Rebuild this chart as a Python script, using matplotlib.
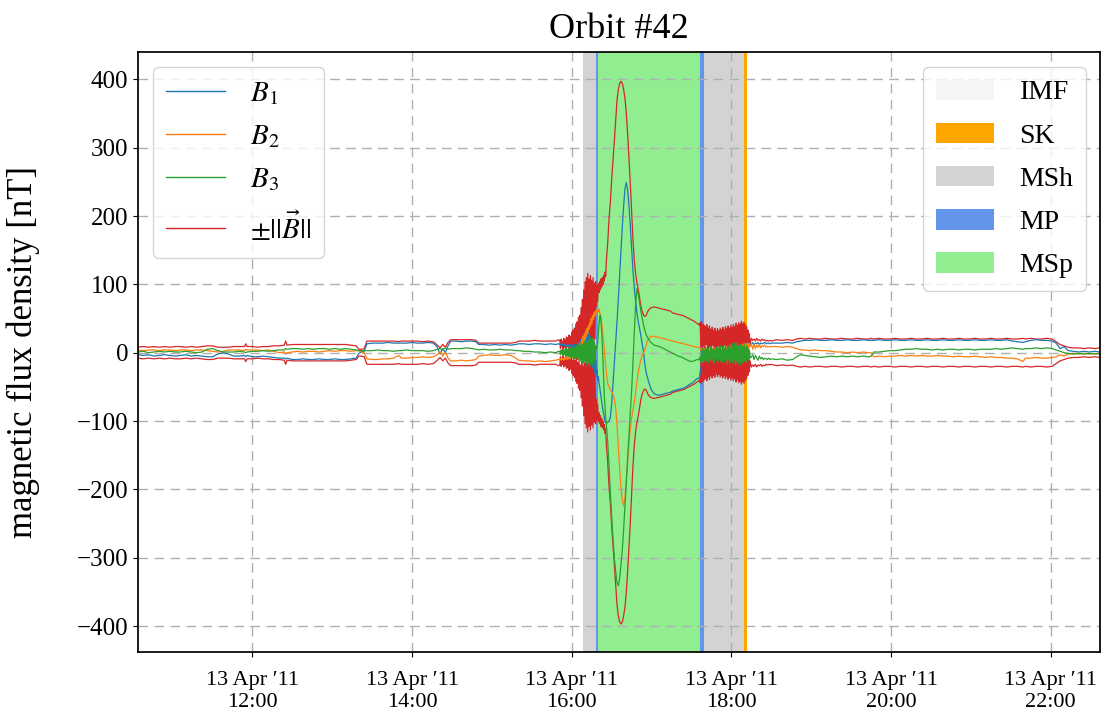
import numpy as np
import matplotlib
matplotlib.use("Agg")
import matplotlib.pyplot as plt
import matplotlib.dates as mdates
from matplotlib.patches import Patch
from matplotlib.lines import Line2D

plt.rcParams['font.family'] = ['Liberation Serif', 'DejaVu Serif']
plt.rcParams['mathtext.fontset'] = 'stix'
plt.rcParams['axes.unicode_minus'] = True

# ---------------- data (minutes after 00:00 on 13 Apr 2011, nT) ----------------
# quiet IMF part before the crossing
t_a = [634, 638, 642, 646, 650, 654, 658, 662, 666, 670, 674, 678, 682,
       686, 690, 694, 698, 702, 706, 710, 714, 715, 716,
       720, 724, 728, 732, 736, 740, 744, 745, 746,
       750, 754, 758, 762, 766, 770, 774, 778, 782, 786, 790, 794, 798,
       800, 802, 804, 806,
       810, 814, 818, 822, 826, 830,
       832, 836, 840, 844, 848, 852, 856,
       859, 861, 863, 865, 867,
       869, 873, 877, 881, 885, 888,
       890, 894, 898, 902, 906, 910, 914, 918,
       920, 924, 928, 932, 936, 940, 944, 948, 950]
b1_a = [-3, -4, -3, -5, -4, -3, -4, -5, -4, -3, -5, -4, -5,
        -6, -6, -2, 0, -2, -5, -5, -4, -6, -4,
        -6, -6, -5, -6, -7, -8, -8, -9, -8,
        -10, -10, -9, -10, -10, -9, -10, -10, -9, -10, -10, -9, -8,
        -1, 1, 2, 13,
        14, 14, 14, 15, 14, 14,
        14, 14, 15, 14, 14, 15, 14,
        8, -2, 6, 0, 10,
        17, 17, 16, 17, 17, 16,
        12, 12, 11, 12, 11, 12, 11, 12,
        13, 13, 12, 13, 13, 12, 13, 12, 13]
b2_a = [4, 3, 4, 4, 3, 4, 4, 3, 4, 4, 3, 4, 4,
        3, 2, 1, 2, 4, 4, 4, 3, 5, 4,
        4, 4, 3, 4, 2, 0, 1, -2, 0,
        1, 2, 1, 2, 2, 1, 2, 3, 2, 3, 3, 2, 3,
        3, 1, 0, -9,
        -10, -10, -9, -9, -8, -4,
        -8, -8, -7, -7, -6, -7, -6,
        -3, 2, -5, 1, -8,
        -12, -12, -11, -12, -11, -10,
        -5, -4, -3, -4, -4, -3, -4, -8,
        -11, -12, -12, -13, -12, -13, -12, -11, -10]
b3_a = [1, 2, 0, 1, 2, 1, 2, 1, 1, 2, 1, 0, 1,
        5, 6, 3, 1, 1, 1, 2, 1, 0, 1,
        2, 2, 3, 2, 3, 4, 4, 6, 5,
        6, 6, 5, 6, 5, 6, 6, 5, 6, 5, 6, 5, 4,
        3, 3, 3, 3,
        3, 4, 3, 3, 2, 3,
        3, 4, 3, 3, 3, 2, 3,
        5, 6, 4, 7, 5,
        6, 6, 6, 7, 6, 5,
        4, 5, 4, 4, 5, 4, 4, 3,
        3, 2, 2, 1, 1, 0, 1, 0, 2]
bmag_a = [8, 9, 8, 9, 8, 9, 8, 9, 9, 8, 9, 8, 9,
          10, 10, 8, 8, 8, 9, 9, 9, 13, 9,
          9, 8, 9, 9, 10, 10, 11, 17, 11,
          12, 12, 12, 12, 12, 12, 12, 12, 12, 12, 12, 11, 10,
          5, 5, 6, 17,
          17, 17, 17, 17, 17, 16,
          17, 17, 17, 17, 16, 17, 16,
          11, 7, 12, 8, 15,
          19, 19, 19, 19, 19, 18,
          14, 14, 14, 14, 14, 14, 14, 15,
          17, 17, 17, 18, 17, 17, 17, 17, 19]

# turbulent inbound part, 15:51 - 16:26, every 0.5 min
t_n1 = np.arange(951, 986.01, 0.5)
bmag_n1 = [18, 6, 20, 9, 17, 4, 21, 8, 19, 5,
           23, 10, 22, 6, 26, 9, 24, 5, 30, 12,
           33, 7, 36, 11, 42, 8, 45, 14, 52, 10,
           55, 18, 66, 12, 78, 20, 92, 15, 104, 9,
           110, 6, 116, 8, 108, 5, 113, 12, 106, 6,
           110, 15, 102, 20, 104, 68, 98, 75, 101, 88,
           104, 92, 108, 96, 110, 100, 113, 105, 118, 112,
           135]
b1_n1 = [12, 13, 11, 12, 10, 13, 11, 12, 10, 12,
         11, 9, 12, 10, 8, 11, 9, 12, 10, 7,
         11, 8, 12, 6, 10, 5, 12, 3, 14, 2,
         16, 0, 20, -5, 24, -8, 28, -12, 30, -15,
         25, -18, 32, -10, 28, -20, 24, -15, 20, -22,
         15, -25, 5, -30, -10, -35, -25, -40, -35, -45,
         -50, -58, -65, -72, -78, -85, -90, -96, -100, -102,
         -103]
b2_n1 = [-10, -9, -11, -8, -10, -9, -11, -8, -10, -7,
         -9, -6, -10, -5, -8, -4, -9, -3, -7, -2,
         -8, 0, -5, 2, -4, 5, -2, 8, 0, 12,
         4, 15, 6, 20, 10, 24, 14, 28, 18, 32,
         24, 36, 28, 40, 34, 44, 38, 50, 42, 54,
         48, 58, 52, 60, 55, 63, 58, 62, 60, 64,
         58, 55, 50, 44, 35, 25, 14, 5, -8, -20,
         -30]
b3_n1 = [2, -3, 4, -2, 3, -4, 5, -3, 4, -5,
         6, -4, 5, -6, 7, -5, 6, -7, 8, -6,
         9, -8, 7, -9, 10, -7, 9, -10, 12, -9,
         11, -12, 14, -10, 12, -15, 16, -12, 18, -14,
         15, -18, 20, -15, 17, -20, 22, -16, 18, -19,
         21, -14, 16, -12, 10, 5, 8, 15, 30, 42,
         52, 55, 45, 30, 10, -15, -40, -64, -80, -95,
         -105]

# magnetosphere pass 16:27 - 17:34
t_msp = np.concatenate([np.arange(987, 1021), np.arange(1022, 1055, 2)])
bmag_msp = [160, 196, 220, 254, 281, 310, 340, 369, 385, 394,
            397, 394, 385, 372, 350, 320, 285, 248, 205, 165,
            135, 115, 102, 92, 80, 68, 60, 55, 53, 55,
            60, 63, 65, 66,
            67, 66, 65, 64, 63, 62, 61, 58, 57, 56,
            55, 54, 52, 50, 48, 46, 43]
b1_msp = [-102, -100, -95, -75, -45, -15, 15, 45, 78, 115,
          150, 185, 215, 240, 249, 238, 215, 185, 152, 120,
          95, 75, 58, 45, 35, 24, 12, 0, -18, -30,
          -37, -44, -50, -55,
          -60, -62, -62, -61, -60, -59, -58, -56, -55, -54,
          -53, -52, -50, -47, -45, -42, -38]
b2_msp = [-45, -50, -54, -57, -61, -68, -80, -105, -138, -170,
          -198, -216, -224, -212, -185, -158, -132, -112, -96, -84,
          -72, -58, -42, -28, -18, -10, -4, 0, 5, 12,
          18, 21, 23, 24,
          24, 23, 22, 21, 20, 19, 18, 17, 16, 15,
          14, 13, 12, 11, 10, 9, 8]
b3_msp = [-130, -165, -205, -240, -272, -300, -320, -336, -341, -330,
          -310, -288, -258, -225, -190, -155, -120, -88, -55, -15,
          30, 70, 94, 85, 72, 60, 50, 40, 32, 26,
          22, 19, 16, 14,
          11, 10, 9, 7, 5, 3, 1, -1, -3, -5,
          -6, -8, -10, -12, -13, -12, -10]

# turbulent outbound part, 17:35 - 18:14, every 0.5 min
t_n2 = np.arange(1055, 1094.01, 0.5)
bmag_n2 = [42, 41, 40, 44, 8, 46, 5, 42, 10, 40,
           4, 38, 12, 41, 6, 36, 3, 39, 9, 34,
           5, 37, 11, 33, 4, 36, 8, 31, 3, 35,
           10, 32, 6, 36, 2, 34, 9, 37, 5, 33,
           12, 38, 4, 35, 8, 39, 3, 36, 10, 40,
           6, 37, 2, 41, 9, 38, 5, 43, 11, 40,
           4, 44, 8, 42, 3, 46, 10, 43, 6, 45,
           2, 41, 9, 38, 5, 33, 10, 28, 12]
b1_n2 = [-38, -37, -36, -30, -22, -16, -10, -6, -8, -3,
         -5, -1, -4, 0, -3, 1, -2, 2, -1, 3,
         -2, 2, 0, 3, -1, 4, 1, 3, 0, 4,
         1, 5, 2, 4, 1, 5, 2, 6, 3, 5,
         2, 6, 4, 7, 3, 6, 4, 8, 5, 7,
         4, 8, 6, 9, 5, 8, 6, 10, 7, 9,
         6, 10, 8, 11, 7, 10, 8, 12, 9, 11,
         8, 12, 10, 13, 11, 12, 14, 11, 13]
b2_n2 = [8, 8, 7, 6, 3, 7, 2, 6, 1, 5,
         3, 7, 2, 5, 0, 6, 3, 5, 1, 7,
         2, 4, 6, 1, 5, 3, 7, 2, 4, 6,
         1, 5, 3, 7, 2, 6, 4, 8, 3, 6,
         2, 7, 4, 9, 3, 6, 5, 8, 2, 7,
         4, 9, 3, 6, 5, 10, 4, 8, 6, 11,
         5, 9, 7, 12, 6, 10, 8, 13, 7, 11,
         9, 14, 8, 12, 10, 14, 6, 13, 9]
b3_n2 = [-10, -10, -11, -6, -14, 4, -12, 6, -15, 3,
         -10, 8, -13, 5, -9, 7, -14, 2, -8, 9,
         -12, 4, -10, 6, -15, 3, -7, 8, -11, 5,
         -13, 7, -9, 10, -12, 4, -14, 9, -8, 6,
         -13, 11, -10, 5, -16, 8, -9, 12, -14, 6,
         -11, 13, -15, 7, -10, 14, -17, 9, -12, 15,
         -16, 10, -13, 12, -18, 11, -14, 9, -15, 13,
         -12, 8, -14, 10, -9, 6, -11, 4, -8]

# settling down after the bow shock, 18:15 - 18:30
t_n3 = np.arange(1095, 1111)
bmag_n3 = [21, 18, 20, 17, 21, 18, 19, 17, 20, 18, 19, 17, 18, 17, 18, 17]
b1_n3 = [12, 15, 11, 14, 13, 15, 12, 14, 13, 14, 15, 13, 14, 14, 13, 14]
b2_n3 = [12, 5, 13, 6, 11, 8, 12, 7, 10, 9, 11, 8, 9, 9, 8, 9]
b3_n3 = [-6, -3, -10, -4, -8, -11, -5, -9, -7, -10, -8, -9, -10, -8, -10, -9]

# quiet IMF part after the crossing
t_b = [1114, 1118, 1122, 1126, 1129, 1132, 1135, 1139, 1143, 1147,
       1151, 1155, 1159, 1163, 1167, 1171, 1175, 1179, 1183, 1185,
       1187, 1191, 1195, 1199, 1203, 1207, 1211, 1215, 1219, 1223,
       1227, 1231, 1235, 1239, 1243, 1247, 1251, 1255, 1259, 1263,
       1267, 1271, 1275, 1279, 1283, 1287, 1291, 1295, 1299,
       1301, 1305, 1309, 1313, 1317, 1321, 1324, 1327, 1330, 1333,
       1337, 1341, 1345, 1349, 1353, 1357]
b1_b = [14, 14, 15, 14, 16, 17, 18, 18, 19, 18, 18, 19, 18, 18, 19, 18, 18, 19, 18, 18,
        18, 19, 18, 18, 19, 18, 18, 19, 18, 18, 19, 18, 18, 19, 18, 18, 19, 18, 18, 19,
        18, 18, 19, 18, 18, 19, 17, 16, 15,
        16, 18, 19, 18, 18, 17, 14, 6, 9, 3, 2, 1, 2, 1, 2, 1]
b2_b = [9, 8, 9, 8, 6, 4, 4, 3, 4, 3, 3, 2, 1, 1, 0, 1, 0, 1, 0, 0,
        -6, -5, -6, -5, -5, -4, -5, -4, -5, -4, -5, -5, -4, -5, -5, -6, -5, -6, -6, -5,
        -6, -7, -6, -7, -7, -8, -8, -9, -13,
        -8, -8, -7, -8, -8, -7, -6, -3, -5, -2, -1, -2, -1, -2, -1, -2]
b3_b = [-10, -9, -11, -10, -6, -3, -4, -5, -6, -7, -6, -5, -6, -5, -6, -5, -6, -5, -6, -5,
        1, 1, 2, 3, 3, 4, 5, 5, 6, 5, 5, 4, 5, 4, 5, 5, 4, 5, 5, 4,
        5, 5, 5, 6, 5, 6, 7, 6, 5,
        6, 6, 7, 6, 7, 6, 4, 2, 0, -1, -2, -1, -2, -1, -2, -1]
bmag_b = [19, 18, 19, 18, 20, 21, 20, 21, 20, 20, 21, 20, 20, 21, 20, 20, 21, 20, 20, 21,
          20, 21, 20, 20, 21, 20, 20, 21, 20, 20, 21, 20, 20, 21, 20, 20, 21, 20, 20, 21,
          20, 20, 21, 20, 20, 21, 20, 20, 21,
          20, 21, 20, 20, 21, 20, 16, 12, 10, 8, 7, 7, 6, 7, 6, 7]

# region classification (start/end in minutes)
region_kind = ['IMF', 'SK', 'MSh', 'MP', 'MSp', 'MP', 'MSh', 'SK', 'IMF']
region_start = [634, 968.1, 968.8, 978.3, 979.8, 1056.1, 1059.2, 1089.2, 1092.0]
region_end = [968.1, 968.8, 978.3, 979.8, 1056.1, 1059.2, 1089.2, 1092.0, 1357]
region_labels = ['IMF', 'SK', 'MSh', 'MP', 'MSp']
region_colors = {'IMF': 'whitesmoke', 'SK': 'orange', 'MSh': 'lightgray',
                 'MP': 'cornflowerblue', 'MSp': 'lightgreen'}

series_labels = [r'$B_1$', r'$B_2$', r'$B_3$', r'$\pm||\vec{B}||$']
series_colors = ['tab:blue', 'tab:orange', 'tab:green', 'tab:red']

# ---------------- assemble ----------------
segs_t = [t_a, t_n1, t_msp, t_n2, t_n3, t_b]
segs = {
    'b1': [b1_a, b1_n1, b1_msp, b1_n2, b1_n3, b1_b],
    'b2': [b2_a, b2_n1, b2_msp, b2_n2, b2_n3, b2_b],
    'b3': [b3_a, b3_n1, b3_msp, b3_n2, b3_n3, b3_b],
    'bm': [bmag_a, bmag_n1, bmag_msp, bmag_n2, bmag_n3, bmag_b],
}
for k, lst in segs.items():
    for tt, vv in zip(segs_t, lst):
        assert len(tt) == len(vv), (k, len(tt), len(vv))

t_all = np.concatenate([np.asarray(s, float) for s in segs_t])
b1 = np.concatenate([np.asarray(s, float) for s in segs['b1']])
b2 = np.concatenate([np.asarray(s, float) for s in segs['b2']])
b3 = np.concatenate([np.asarray(s, float) for s in segs['b3']])
bm = np.concatenate([np.asarray(s, float) for s in segs['bm']])

day0 = np.datetime64('2011-04-13T00:00:00')


def to_dt(minutes):
    secs = np.round(np.asarray(minutes, float) * 60).astype('int64')
    return day0 + secs.astype('timedelta64[s]')


times = to_dt(t_all)

# ---------------- plot ----------------
fig = plt.figure(figsize=(11.08, 7.15), dpi=100)
ax = fig.add_axes([138 / 1108, 1 - 652 / 715, (1100 - 138) / 1108, (652 - 52) / 715])

for kind, s, e in zip(region_kind, region_start, region_end):
    ax.axvspan(to_dt(s), to_dt(e), color=region_colors[kind],
               alpha=0.0 if kind == 'IMF' else 1.0, lw=0, zorder=0.5)

lw = 0.9
ax.plot(times, bm, color=series_colors[3], lw=lw, zorder=2.0)
ax.plot(times, -bm, color=series_colors[3], lw=lw, zorder=2.0)
ax.plot(times, b1, color=series_colors[0], lw=lw, zorder=2.1)
ax.plot(times, b2, color=series_colors[1], lw=lw, zorder=2.2)
ax.plot(times, b3, color=series_colors[2], lw=lw, zorder=2.3)

ax.set_xlim(times[0], times[-1])
ax.set_ylim(-438, 440)
ax.set_yticks(np.arange(-400, 401, 100))

ax.xaxis.set_major_locator(mdates.HourLocator(byhour=range(0, 24, 2)))
ax.xaxis.set_major_formatter(mdates.DateFormatter('%d %b \u2032%y\n%H:%M'))

ax.grid(True, color='#b0b0b0', linestyle=(0, (7, 4.5)), linewidth=1.0)
ax.tick_params(axis='y', labelsize=18)
ax.tick_params(axis='x', labelsize=16, pad=10)
for sp in ax.spines.values():
    sp.set_linewidth(1.25)

ax.set_title('Orbit #42', fontsize=26, pad=10)
ax.set_ylabel('magnetic flux density [nT]', fontsize=25)
ax.yaxis.set_label_coords(-0.102, 0.5)

line_handles = [Line2D([], [], color=c, lw=1.0, label=l)
                for c, l in zip(series_colors, series_labels)]
leg1 = ax.legend(handles=line_handles, loc='upper left', bbox_to_anchor=(0.0156, 0.975),
                 borderaxespad=0, fontsize=21, handlelength=2.03, handletextpad=0.83,
                 labelspacing=0.56, borderpad=0.45, fancybox=True, framealpha=0.8,
                 edgecolor='#cccccc')
ax.add_artist(leg1)

patch_handles = [Patch(facecolor=region_colors[k], edgecolor='none', label=k)
                 for k in region_labels]
ax.legend(handles=patch_handles, loc='upper right', bbox_to_anchor=(0.9854, 0.975),
          borderaxespad=0, fontsize=20, handlelength=2.12, handleheight=0.76,
          handletextpad=0.9, labelspacing=0.62, borderpad=0.45, fancybox=True,
          framealpha=0.8, edgecolor='#cccccc')

fig.canvas.draw()
for lab in ax.get_xticklabels():
    lab.set_linespacing(1.25)

fig.savefig('out.png', dpi=100)
